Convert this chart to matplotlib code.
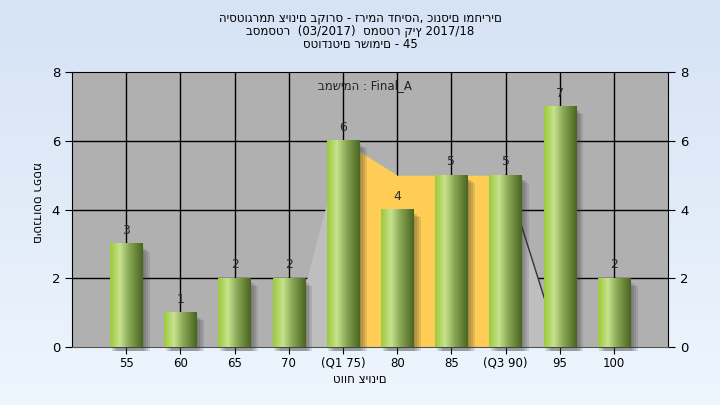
import matplotlib
matplotlib.use("Agg")
import matplotlib.pyplot as plt
import numpy as np
from matplotlib.colors import LinearSegmentedColormap
from matplotlib.patches import Rectangle

plt.rcParams["font.family"] = ["DejaVu Sans"]

categories = ["55", "60", "65", "70", "(Q1 75)", "80", "85", "(Q3 90)", "95", "100"]
counts = [3, 1, 2, 2, 6, 4, 5, 5, 7, 2]
# quartile band drawn behind the bars (index, height)
box_idx = [3, 4, 5, 6, 7, 8]
box_vals = [0, 6, 5, 5, 5, 0]

title_lines = [
    "היסטוגרמת ציונים בקורס - זרימה דחיסה, כונסים ומחירים",
    "בסמסטר  (03/2017)  סמסטר קיץ 2017/18",
    "סטודנטים רשומים - 45",
]
legend_txt = "במשימה : Final_A"
xlabel = "טווח ציונים"
ylabel = "מספר סטודנטים"

fig = plt.figure(figsize=(7.2, 4.05), dpi=100)

# background gradient
bg = fig.add_axes([0, 0, 1, 1], zorder=-10)
bg.imshow(np.linspace(0, 1, 100)[:, None],
          cmap=LinearSegmentedColormap.from_list("bg", ["#d5e3f5", "#eef5fd"]),
          aspect="auto", extent=[0, 1, 0, 1])
bg.set_axis_off()

ax = fig.add_axes([0.1, 0.143, 0.828, 0.679])
ax.set_facecolor("#b0b0b0")

x = np.arange(len(categories))

# grid
for v in [2, 4, 6]:
    ax.axhline(v, color="black", lw=1, zorder=1)
for xi in x:
    ax.axvline(xi, color="black", lw=1, zorder=1)

# quartile band
bi = np.array(box_idx)
bv = np.array(box_vals)
ax.fill_between(bi[:2], 0, bv[:2], color="#bebebe", lw=0, zorder=2)
ax.fill_between(bi[-2:], 0, bv[-2:], color="#bebebe", lw=0, zorder=2)
ax.fill_between(bi[1:-1], 0, bv[1:-1], color="#ffcc55", lw=0, zorder=2)
ax.plot(bi[-2:], bv[-2:], color="#333333", lw=1, zorder=2.5)

# bars with gradient + soft shadow
cmap = LinearSegmentedColormap.from_list(
    "bar", [(0, "#9ccb3c"), (0.3, "#c8e28e"), (0.6, "#86a552"), (1, "#4b6622")])
grad = np.linspace(0, 1, 64)[None, :]
w = 0.6
for xi, c in zip(x, counts):
    for k in range(4):
        off = 0.03 + 0.035 * k
        ax.add_patch(Rectangle((xi - w / 2 + off, -0.12), w, c - 0.1 + 0.12 - 0.04 * k,
                               color="#303030", alpha=0.13, lw=0, zorder=3,
                               clip_on=False))
    ax.imshow(grad, cmap=cmap, aspect="auto",
              extent=[xi - w / 2, xi + w / 2, 0, c], zorder=4)
    ax.text(xi, c + 0.2, str(c), ha="center", va="bottom",
            fontsize=9, color="#2a2a2a", zorder=5)

ax.set_xlim(-1, 10)
ax.set_ylim(0, 8)

ax.set_xticks(x)
ax.set_xticklabels(categories, fontsize=8.5)
ax.set_yticks([0, 2, 4, 6, 8])
ax.tick_params(axis="y", labelsize=9.5, length=5, right=True, labelright=True,
               colors="black")
ax.tick_params(axis="x", length=5, pad=2)
for s in ax.spines.values():
    s.set_color("black")
ax.spines["bottom"].set_color("#555555")

ax.text(4.4, 7.6, legend_txt, ha="center", va="center", fontsize=8.5,
        color="#222222", zorder=6)

fig.text(0.5, 0.955, title_lines[0], ha="center", va="center", fontsize=8.5)
fig.text(0.5, 0.923, title_lines[1], ha="center", va="center", fontsize=8.5)
fig.text(0.5, 0.891, title_lines[2], ha="center", va="center", fontsize=8.5)
fig.text(0.5, 0.062, xlabel, ha="center", va="center", fontsize=8.5)
fig.text(0.05, 0.5, ylabel, ha="center", va="center", fontsize=8.5, rotation=-90)

fig.savefig("out.png", dpi=100)
